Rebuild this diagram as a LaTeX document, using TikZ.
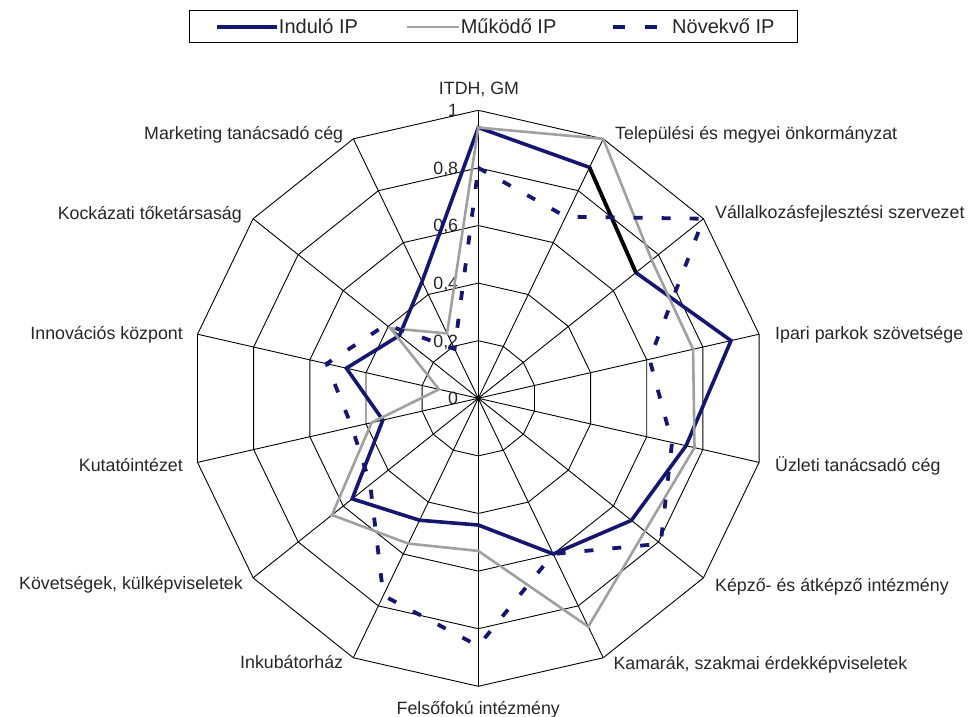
\documentclass[tikz,border=0pt]{standalone}
\usepackage{fontspec}
\setmainfont{Liberation Sans}
\definecolor{seriesnavy}{RGB}{22,22,112}
\definecolor{seriesgray}{RGB}{160,160,160}
\begin{document}
\begin{tikzpicture}[x=1pt,y=1pt,
  gridline/.style={black, line width=0.9pt},
  lbl/.style={font=\fontsize{17.8}{20}\selectfont, text=black!85, inner sep=0pt,
              text height=12.9pt, text depth=0pt},
  legtext/.style={font=\fontsize{20}{22}\selectfont, text=black!85, inner sep=0pt,
              text height=14pt, text depth=0pt, anchor=west},
  induloline/.style={draw=seriesnavy, line width=3.6pt, line join=miter},
  mukodoline/.style={draw=seriesgray, line width=2.6pt, line join=miter},
  novekvoline/.style={draw=seriesnavy, line width=3.8pt, dash pattern=on 9pt off 19pt},
]
\def\R{288}
% page frame, origin at the chart centre
\useasboundingbox (-478.3,-318.7) rectangle (493.7,398.3);

% ---- grid: five 14-gon rings and 14 spokes ----
\foreach \k in {0,...,13} {
  \coordinate (v\k) at ({90-\k*360/14}:\R);
  \draw[gridline] (0,0) -- (v\k);
}
\foreach \f in {0.2,0.4,0.6,0.8,1} {
  \draw[gridline] (90:\f*\R)
    \foreach \k in {1,...,13} { -- ({90-\k*360/14}:\f*\R) } -- cycle;
}
\fill (0,0) circle (2.2pt);

% ---- scale labels ----
\foreach \f/\t in {0/0,0.2/{0,2},0.4/{0,4},0.6/{0,6},0.8/{0,8},1/1} {
  \node[lbl, anchor=east] at (-20,\f*\R) {\t};
}

% ---- category labels ----
\node[lbl] (c0) at (0.7,310.3) {ITDH, GM};
\node[lbl, anchor=west] (c1) at (136.7,265.3) {Települési és megyei önkormányzat};
\node[lbl, anchor=west] (c2) at (236.7,186.6) {Vállalkozásfejlesztési szervezet};
\node[lbl, anchor=west] (c3) at (296.7,65.6) {Ipari parkok szövetsége};
\node[lbl, anchor=west] (c4) at (296.7,-66.7) {Üzleti tanácsadó cég};
\node[lbl, anchor=west] (c5) at (236.7,-186.7) {Képző- és átképző intézmény};
\node[lbl, anchor=west] (c6) at (135,-265) {Kamarák, szakmai érdekképviseletek};
\node[lbl] (c7) at (0,-310) {Felsőfokú intézmény};
\node[lbl, anchor=east] (c8) at (-135,-263.7) {Inkubátorház};
\node[lbl, anchor=east] (c9) at (-235.3,-184.7) {Követségek, külképviseletek};
\node[lbl, anchor=east] (c10) at (-295.3,-66.7) {Kutatóintézet};
\node[lbl, anchor=east] (c11) at (-295.3,65.3) {Innovációs központ};
\node[lbl, anchor=east] (c12) at (-236.3,185.3) {Kockázati tőketársaság};
\node[lbl, anchor=east] (c13) at (-135,265) {Marketing tanácsadó cég};

% ---- data points ----
\foreach \v [count=\i from 0] in {0.94,0.89,0.70,0.90,0.74,0.68,0.60,0.44,0.47,0.56,0.34,0.47,0.35,0.45}
  { \coordinate (a\i) at ({90-\i*360/14}:{\v*\R}); }
\foreach \v [count=\i from 0] in {0.94,1.00,0.77,0.765,0.77,0.74,0.88,0.53,0.56,0.65,0.38,0.14,0.39,0.25}
  { \coordinate (b\i) at ({90-\i*360/14}:{\v*\R}); }
\foreach \v [count=\i from 0] in {0.80,0.70,1.00,0.61,0.69,0.81,0.60,0.86,0.76,0.48,0.45,0.54,0.41,0.19}
  { \coordinate (n\i) at ({90-\i*360/14}:{\v*\R}); }

% ---- series ----
\draw[induloline] (a0) -- (a1) -- (a2) -- (a3) -- (a4) -- (a5) -- (a6) -- (a7)
  -- (a8) -- (a9) -- (a10) -- (a11) -- (a12) -- (a13) -- cycle;
\draw[line width=3.6pt, black] (a1) -- (a2);
\draw[mukodoline] (b0) -- (b1) -- (b2) -- (b3) -- (b4) -- (b5) -- (b6) -- (b7)
  -- (b8) -- (b9) -- (b10) -- (b11) -- (b12) -- (b13) -- cycle;
\draw[novekvoline] (n0) -- (n1) -- (n2) -- (n3) -- (n4) -- (n5) -- (n6) -- (n7)
  -- (n8) -- (n9) -- (n10) -- (n11) -- (n12) -- (n13) -- cycle;

% ---- legend ----
\draw[black, line width=1pt] (-288.3,387.3) rectangle (318.7,355.3);
\coordinate (l1a) at (-261,371.3);
\coordinate (l1b) at (-201.5,371.3);
\draw[induloline] (l1a) -- (l1b);
\node[legtext] (t1) at (-199.5,371.3) {Induló IP};
\coordinate (l2a) at (-71.3,371.3);
\coordinate (l2b) at (-19.6,371.3);
\draw[mukodoline] (l2a) -- (l2b);
\node[legtext] (t2) at (-17.7,371.3) {Működő IP};
\coordinate (l3a) at (134.5,371.3);
\coordinate (l3b) at (194,371.3);
\draw[novekvoline, dash pattern=on 12pt off 20pt] (l3a) -- (l3b);
\node[legtext] (t3) at (193.7,371.3) {Növekvő IP};
\end{tikzpicture}
\end{document}
